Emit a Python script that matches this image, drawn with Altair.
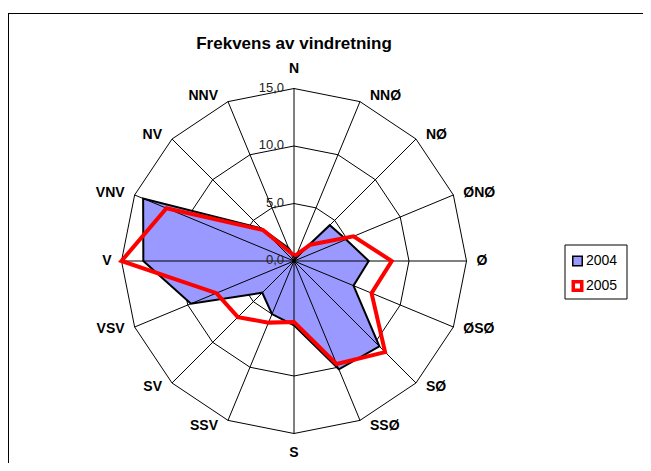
import altair as alt
import numpy as np
import pandas as pd

# ---- data ----
directions = ["N", "NNØ", "NØ", "ØNØ", "Ø", "ØSØ", "SØ", "SSØ",
              "S", "SSV", "SV", "VSV", "V", "VNV", "NV", "NNV"]
v2004 = [0.4, 0.3, 4.4, 4.9, 6.5, 5.6, 10.5, 10.2, 5.6, 5.0, 3.9, 9.7, 13.1, 14.2, 4.0, 1.2]
v2005 = [0.5, 0.6, 2.0, 5.6, 8.5, 7.3, 11.2, 9.7, 5.3, 5.8, 6.9, 7.3, 15.0, 12.0, 3.8, 0.8]
series_names = ["2004", "2005"]
ring_values = [5, 10, 15]
tick_values = [0, 5, 10, 15]
tick_labels = ["0,0", "5,0", "10,0", "15,0"]
chart_title = "Frekvens av vindretning"

# ---- layout ----
W, H = 635, 455
PX = 11.5           # pixels per data unit
CX, CY = 286, 253   # centre of the radar in plot pixels
RMAX = 15
xdom = [-CX / PX, (W - CX) / PX]
ydom = [-(H - CY) / PX, CY / PX]

NARROW = "'Liberation Sans Narrow', 'Arial Narrow', 'Liberation Sans', Arial, sans-serif"
REG = "'Liberation Sans', Arial, sans-serif"

n = len(directions)
ang = np.deg2rad(np.arange(n) * 360.0 / n)
sin, cos = np.sin(ang), np.cos(ang)

def polygon(vals, key, name):
    rows = []
    for k in range(n + 1):
        i = k % n
        rows.append({key: name, "order": k, "dir": directions[i],
                     "x": vals[i] * sin[i], "y": vals[i] * cos[i]})
    return rows

series_df = pd.DataFrame(polygon(v2004, "serie", series_names[0]) +
                         polygon(v2005, "serie", series_names[1]))
rings_df = pd.DataFrame(sum([polygon([r] * n, "ring", r) for r in ring_values], []))
spokes_df = pd.DataFrame({"x": 0.0, "y": 0.0, "x2": RMAX * sin, "y2": RMAX * cos})
ticks_df = pd.DataFrame({"x": 0.0, "y": tick_values, "label": tick_labels})

padx = 10 / PX
lab = pd.DataFrame({"label": directions, "s": sin, "c": cos})
lab["side"] = np.where(lab["s"] > 1e-6, "left", np.where(lab["s"] < -1e-6, "right", "center"))
lab["lx"] = RMAX * lab["s"] + np.sign(np.round(lab["s"], 6)) * padx
lab["ly"] = RMAX * lab["c"] + 6 * lab["c"] / PX
lab.loc[lab["side"] == "center", "ly"] = RMAX * lab["c"] + np.sign(lab["c"]) * 19.5 / PX

X = alt.X("x:Q", scale=alt.Scale(domain=xdom, nice=False, zero=False), axis=None)
Y = alt.Y("y:Q", scale=alt.Scale(domain=ydom, nice=False, zero=False), axis=None)

frame_left = alt.Chart(pd.DataFrame({"a": [0]})).mark_rule(color="black", strokeWidth=1).encode(
    x=alt.value(0.5), y=alt.value(5), y2=alt.value(H))
frame_top = alt.Chart(pd.DataFrame({"a": [0]})).mark_rule(color="black", strokeWidth=1).encode(
    x=alt.value(0), x2=alt.value(W), y=alt.value(5.5))

rings = alt.Chart(rings_df).mark_line(color="black", strokeWidth=1).encode(
    x=X, y=Y, detail="ring:N", order="order:Q")

fill04 = alt.Chart(series_df).transform_filter(alt.datum.serie == "2004").mark_line(
    fill="#9999FF", stroke="#9999FF", strokeWidth=0.5).encode(x=X, y=Y, order="order:Q")

spokes = alt.Chart(spokes_df).mark_rule(color="black", strokeWidth=1).encode(
    x=X, y=Y, x2="x2:Q", y2="y2:Q")

line04 = alt.Chart(series_df).transform_filter(alt.datum.serie == "2004").mark_line(
    color="black", strokeWidth=2, strokeJoin="miter").encode(x=X, y=Y, order="order:Q")
line05 = alt.Chart(series_df).transform_filter(alt.datum.serie == "2005").mark_line(
    color="#FF0000", strokeWidth=4, strokeJoin="miter").encode(x=X, y=Y, order="order:Q")

ticks = alt.Chart(ticks_df).mark_text(align="right", baseline="middle", dx=-10, dy=-1,
                                      font=NARROW, fontSize=13, color="#222222").encode(
    x=X, y=Y, text="label:N")

def dir_layer(side):
    return alt.Chart(lab).transform_filter(alt.datum.side == side).mark_text(
        align=side, baseline="middle", font=NARROW, fontSize=14, fontWeight="bold",
        color="black").encode(x=alt.X("lx:Q", scale=alt.Scale(domain=xdom, nice=False, zero=False), axis=None),
                              y=alt.Y("ly:Q", scale=alt.Scale(domain=ydom, nice=False, zero=False), axis=None),
                              text="label:N")

title = alt.Chart(pd.DataFrame({"t": [chart_title]})).mark_text(
    align="center", baseline="alphabetic", font=NARROW, fontSize=17, fontWeight="bold",
    color="black").encode(x=alt.value(286), y=alt.value(41), text="t:N")

leg_box = alt.Chart(pd.DataFrame({"a": [0]})).mark_rect(
    fill="white", stroke="black", strokeWidth=1).encode(
    x=alt.value(557), x2=alt.value(619), y=alt.value(237), y2=alt.value(291))
leg_sq04 = alt.Chart(pd.DataFrame({"a": [0]})).mark_point(
    shape="square", filled=True, fill="#9999FF", stroke="black", strokeWidth=1.5,
    size=90, opacity=1).encode(x=alt.value(569.5), y=alt.value(253))
leg_sq05 = alt.Chart(pd.DataFrame({"a": [0]})).mark_point(
    shape="square", filled=True, fill="white", stroke="#FF0000", strokeWidth=3.5,
    size=72, opacity=1).encode(x=alt.value(569.5), y=alt.value(278))
leg_txt = alt.Chart(pd.DataFrame({"t": series_names, "yy": [253, 278]})).mark_text(
    align="left", baseline="middle", font=REG, fontSize=14, color="black").encode(
    x=alt.value(578), y=alt.Y("yy:Q", scale=None), text="t:N")

chart = alt.layer(
    frame_left, frame_top, rings, fill04, spokes, line04, line05, ticks,
    dir_layer("left"), dir_layer("right"), dir_layer("center"),
    title, leg_box, leg_sq04, leg_sq05, leg_txt
).properties(
    width=W, height=H, autosize=alt.AutoSizeParams(type="none"), padding=0
).configure_view(stroke=None)

chart.save("out.html", embed_options={"renderer": "svg", "actions": False})
